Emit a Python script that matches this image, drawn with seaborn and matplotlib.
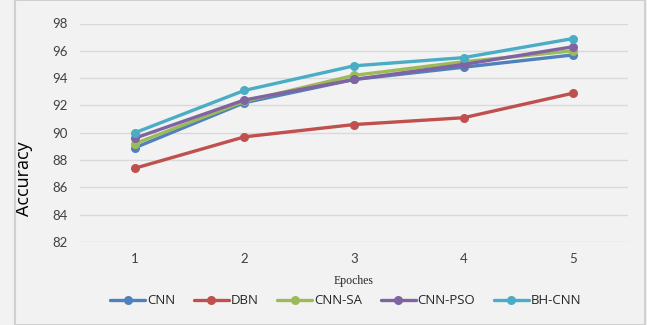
import matplotlib
matplotlib.use("Agg")
import matplotlib.pyplot as plt
import pandas as pd
import seaborn as sns
from matplotlib.patches import Rectangle

epochs = [1, 2, 3, 4, 5]
cnn = [88.9, 92.2, 93.9, 94.8, 95.7]
dbn = [87.4, 89.7, 90.6, 91.1, 92.9]
cnn_sa = [89.2, 92.3, 94.2, 95.2, 96.0]
cnn_pso = [89.6, 92.4, 93.9, 95.0, 96.3]
bh_cnn = [90.0, 93.1, 94.9, 95.5, 96.9]

series = {"CNN": cnn, "DBN": dbn, "CNN-SA": cnn_sa, "CNN-PSO": cnn_pso, "BH-CNN": bh_cnn}
colors = ["#4F81BD", "#C0504D", "#9BBB59", "#8064A2", "#4BACC6"]

# long-form table for seaborn
rows = []
for name, vals in series.items():
    for e, v in zip(epochs, vals):
        rows.append({"Epoches": e, "Accuracy": v, "Model": name})
df = pd.DataFrame(rows)

sns.set_theme(style="white")
plt.rcParams["font.family"] = ["Lato", "DejaVu Sans"]

bg = "#F2F2F2"
fig = plt.figure(figsize=(6.47, 3.25), dpi=100, facecolor=bg)
ax = fig.add_axes([80 / 647, 1 - 242 / 325, 548 / 647, (242 - 23.5) / 325])
ax.set_facecolor(bg)

sns.lineplot(data=df, x="Epoches", y="Accuracy", hue="Model", palette=colors,
             marker="o", markersize=6.5, markeredgewidth=0, linewidth=2.4, ax=ax)

ax.set_xlim(0.5, 5.5)
ax.set_ylim(82, 98)
ax.set_xticks(epochs)
ax.set_yticks(range(82, 99, 2))
ax.yaxis.grid(True, color="#D9D9D9", linewidth=1)
ax.set_axisbelow(True)
for s in ax.spines.values():
    s.set_visible(False)
ax.tick_params(axis="both", length=0, labelsize=9.5, colors="#404040")
ax.tick_params(axis="y", pad=9)
ax.tick_params(axis="x", pad=8)

ax.set_ylabel("Accuracy", fontsize=13, color="#000000", family=["Open Sans"])
ax.yaxis.set_label_coords(-0.086, 0.29)
ax.set_xlabel("Epoches", fontsize=8.5, family=["Liberation Serif"], labelpad=7)

handles, labels = ax.get_legend_handles_labels()
leg = ax.legend(handles, labels, loc="upper center", bbox_to_anchor=(0.485, -0.185),
                ncol=5, frameon=False, handlelength=2.65,
                handletextpad=0.15, columnspacing=1.4,
                prop={"family": "Open Sans", "size": 9.5})
for t in leg.get_texts():
    t.set_color("#262626")

# outer chart border
fig.patches.append(Rectangle((15 / 647, 0), 630 / 647, 1, transform=fig.transFigure,
                             fill=False, edgecolor="#D0D0D0", linewidth=1.5))

fig.savefig("out.png", dpi=100, facecolor=bg)
